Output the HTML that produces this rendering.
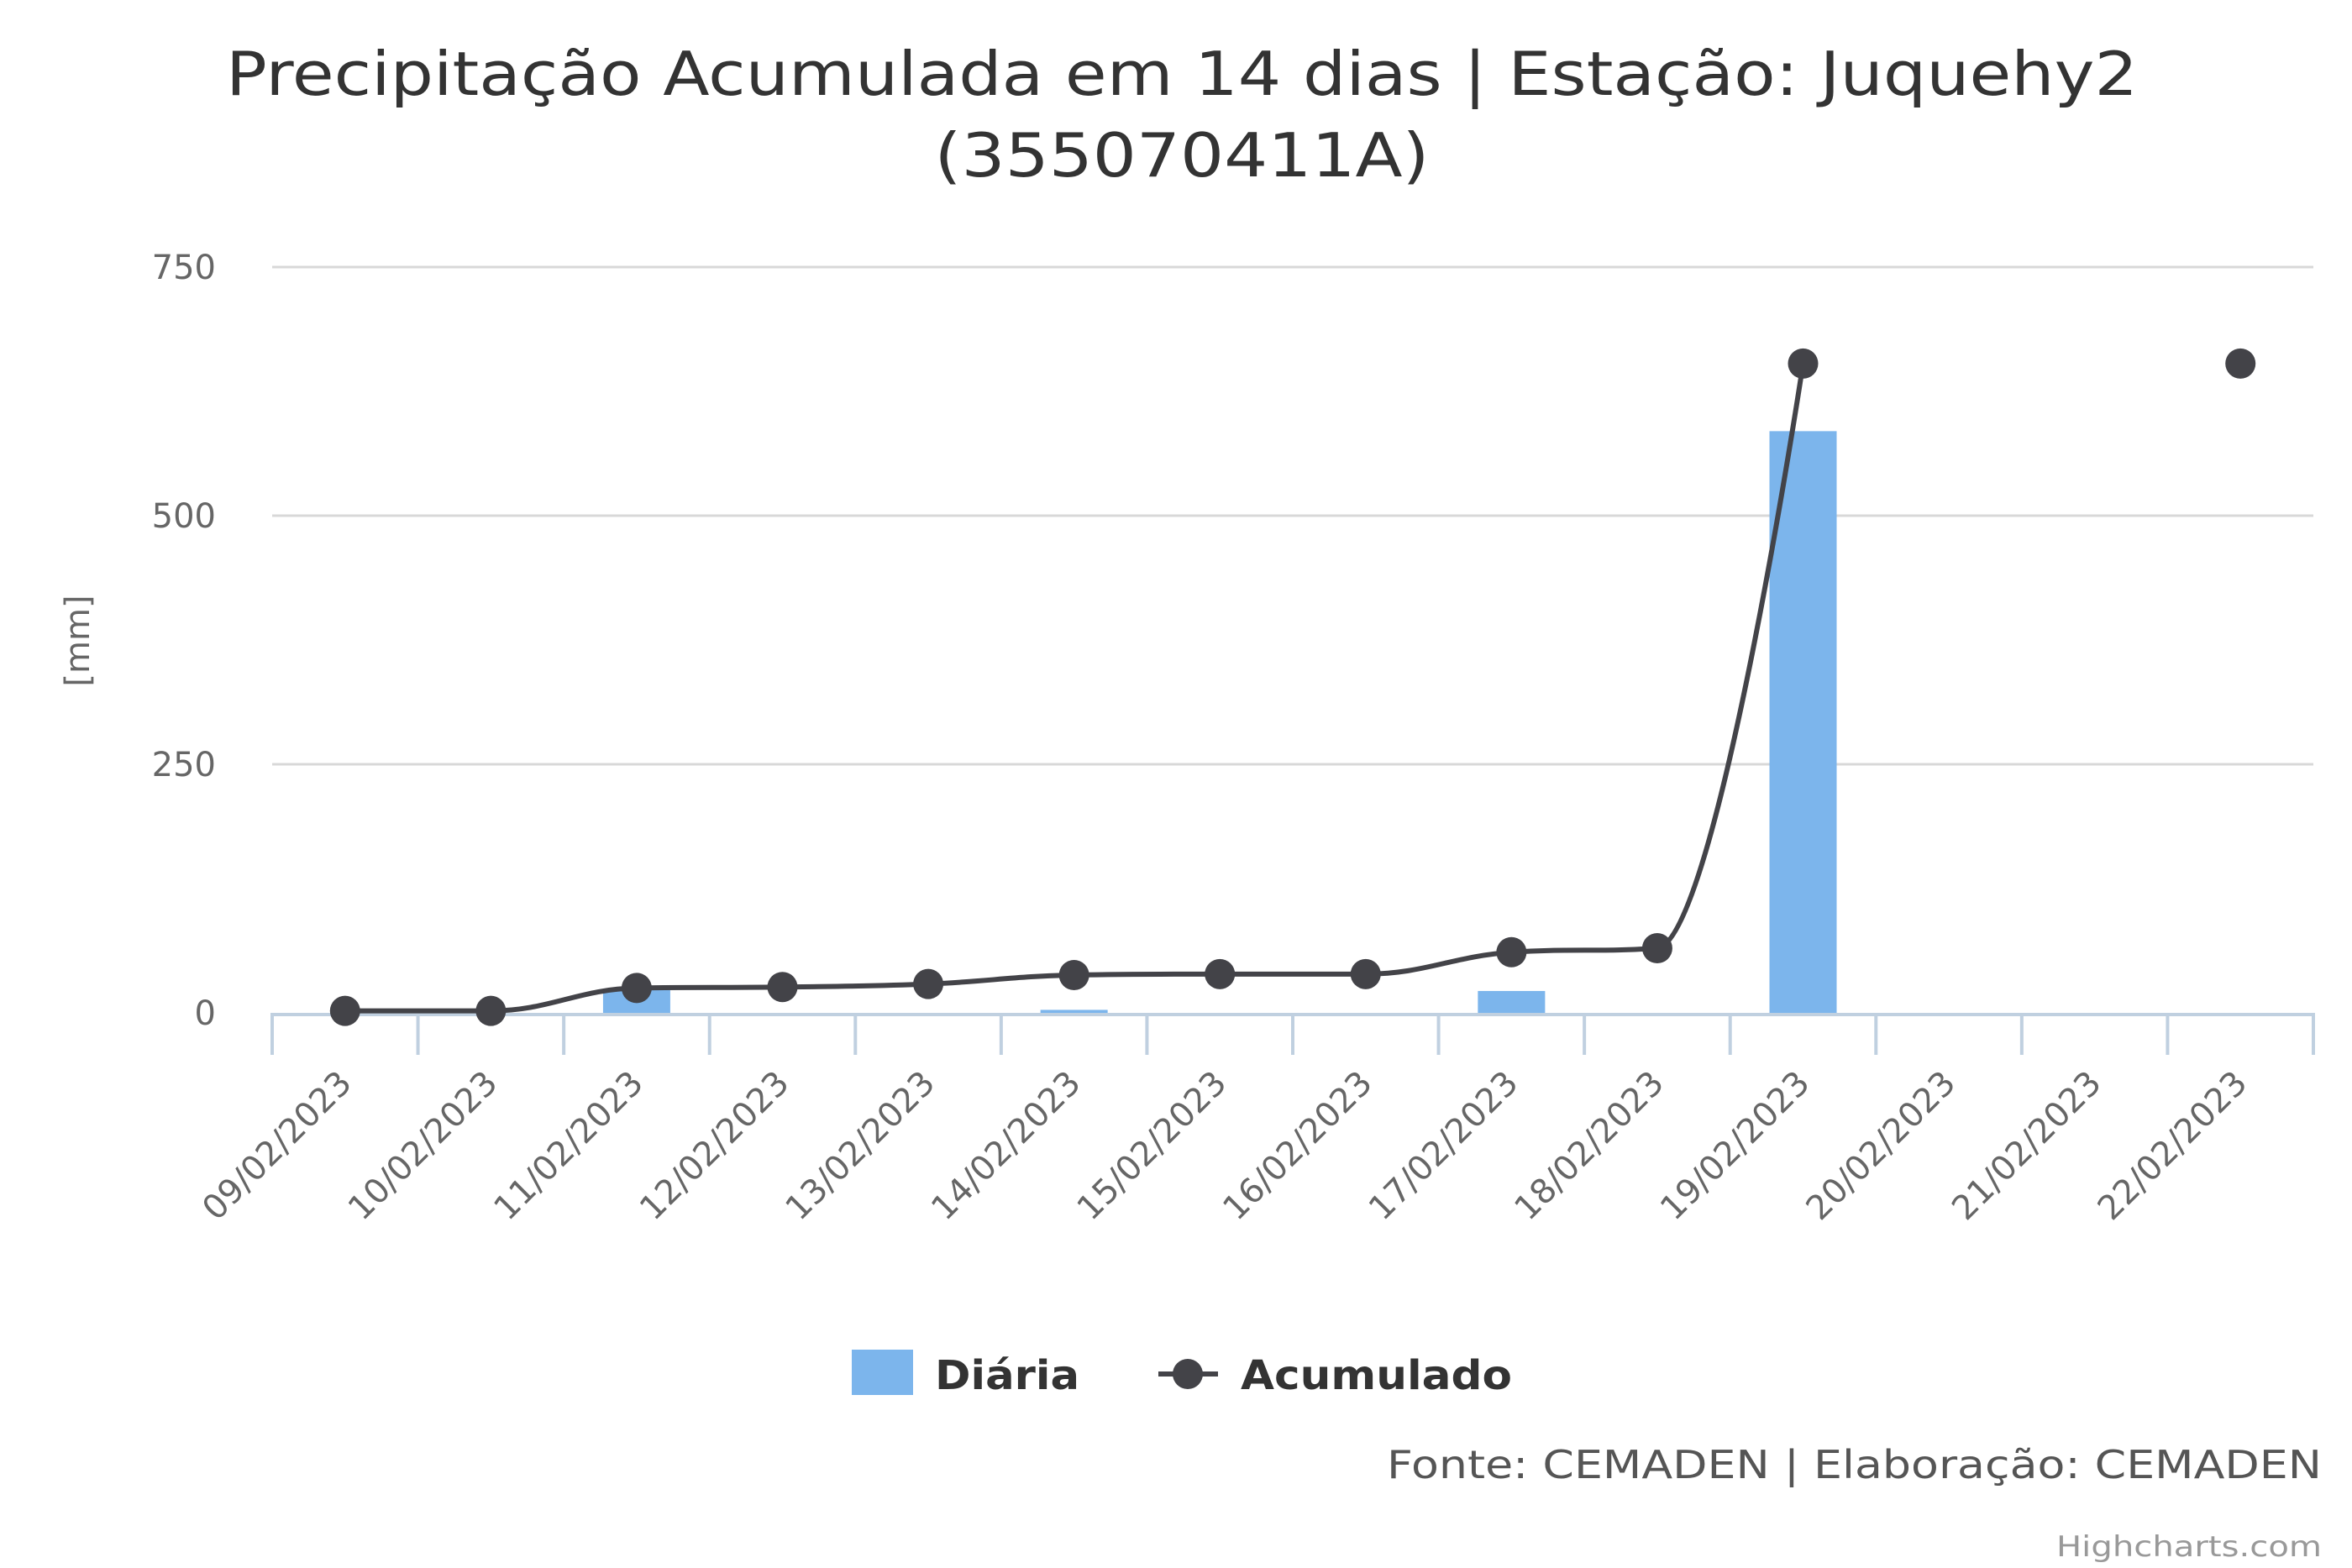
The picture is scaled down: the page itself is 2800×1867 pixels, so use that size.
<!DOCTYPE html>
<html><head><meta charset="utf-8"><style>
html,body{margin:0;padding:0;background:#fff;}
svg{display:block;font-family:"DejaVu Sans","Liberation Sans",sans-serif;}
</style></head><body>
<svg id="chart" width="2800" height="1867" viewBox="0 0 2800 1867" xmlns="http://www.w3.org/2000/svg">
<rect width="2800" height="1867" fill="#fff"/>
<text x="1407" y="113" font-size="72" fill="#333" text-anchor="middle" textLength="2276" lengthAdjust="spacingAndGlyphs">Precipitação Acumulada em 14 dias | Estação: Juquehy2</text>
<text x="1407" y="210" font-size="72" fill="#333" text-anchor="middle" textLength="589" lengthAdjust="spacingAndGlyphs">(355070411A)</text>
<g id="grid"></g>
<g id="bars"></g>
<g id="axis"></g>
<g id="line"></g>
<text transform="translate(106,763) rotate(-90)" font-size="40" fill="#666" text-anchor="middle">[mm]</text>
<g>
<g>
<rect x="1014" y="1607" width="73" height="54" fill="#7cb5ec"/>
<text x="1113" y="1654" font-size="48" font-weight="bold" fill="#333" textLength="172" lengthAdjust="spacingAndGlyphs">Diária</text>
</g>
<g>
<line x1="1379" y1="1636" x2="1450" y2="1636" stroke="#434348" stroke-width="6"/>
<circle cx="1414" cy="1636" r="18" fill="#434348"/>
<text x="1477" y="1654" font-size="48" font-weight="bold" fill="#333" textLength="323" lengthAdjust="spacingAndGlyphs">Acumulado</text>
</g>
</g>
<text x="2764" y="1760" font-size="46" fill="#555" text-anchor="end" textLength="1113" lengthAdjust="spacingAndGlyphs">Fonte: CEMADEN | Elaboração: CEMADEN</text>
<text x="2764" y="1853" font-size="34" fill="#999" text-anchor="end" textLength="316" lengthAdjust="spacingAndGlyphs">Highcharts.com</text>
</svg>
<script>
const categories=["09/02/2023","10/02/2023","11/02/2023","12/02/2023","13/02/2023","14/02/2023","15/02/2023","16/02/2023","17/02/2023","18/02/2023","19/02/2023","20/02/2023","21/02/2023","22/02/2023"];
const diaria=[0,0,23,0,0,3,0,0,22,0,585,0,0,0];
const acumulado=[2,2,25,26,29,38,39,39,61,65,653,null,null,653];
const yTicks=[0,250,500,750];

const NS="http://www.w3.org/2000/svg";
const L=324,R=2754,Y0=1206,Ymax=318,VMAX=750;
const bw=(R-L)/categories.length;
function xs(i){return L+bw*(i+0.5);}
function ys(v){return Y0-(v/VMAX)*(Y0-Ymax);}
function mk(tag,attrs,parent){const e=document.createElementNS(NS,tag);for(const k in attrs)e.setAttribute(k,attrs[k]);parent.appendChild(e);return e;}
const grid=document.getElementById('grid'),bars=document.getElementById('bars'),axis=document.getElementById('axis'),line=document.getElementById('line');

yTicks.forEach(v=>{
  if(v>0){const g=mk('line',{x1:L,x2:R,y1:ys(v),y2:ys(v),stroke:'#d8d8d8','stroke-width':3},grid);
  
  }
  const t=mk('text',{x:257,y:ys(v)+14,'font-size':40,fill:'#666','text-anchor':'end'},grid);
  t.textContent=v;
  
  
});

diaria.forEach((v,i)=>{
  if(!v)return;
  const b=mk('rect',{x:xs(i)-40,y:ys(v),width:80,height:Y0-ys(v),fill:'#7cb5ec'},bars);
  
  
});

const ax=mk('line',{x1:L,x2:R,y1:Y0+2,y2:Y0+2,stroke:'#c0d0e0','stroke-width':4},axis);


for(let i=0;i<=categories.length;i++){
  const x=L+bw*i;
  const tk=mk('line',{x1:x,x2:x,y1:Y0,y2:Y0+50,stroke:'#c0d0e0','stroke-width':4},axis);
  
  
}
categories.forEach((c,i)=>{
  const x=xs(i)+10,y=1292;
  const t=mk('text',{x:x,y:y,'font-size':40,fill:'#666','text-anchor':'end',transform:`rotate(-45 ${x} ${y})`},axis);
  t.textContent=c;
  
  
});

// Highcharts-style spline
const segs=[];let cur=[];
acumulado.forEach((v,i)=>{if(v==null){if(cur.length)segs.push(cur);cur=[];}else cur.push({x:xs(i),y:ys(v),i:i});});
if(cur.length)segs.push(cur);
const sm=1.5,den=2.5;
segs.forEach(seg=>{
  if(seg.length<2)return;
  const lc=[],rc=[];
  seg.forEach((p,k)=>{
    if(k===0||k===seg.length-1){lc[k]={x:p.x,y:p.y};rc[k]={x:p.x,y:p.y};return;}
    const a=seg[k-1],n=seg[k+1];
    let lx=(sm*p.x+a.x)/den,ly=(sm*p.y+a.y)/den,rx=(sm*p.x+n.x)/den,ry=(sm*p.y+n.y)/den;
    if(rx!==lx){const c=((ry-ly)*(rx-p.x))/(rx-lx)+p.y-ry;ly+=c;ry+=c;}
    if(ly>a.y&&ly>p.y){ly=Math.max(a.y,p.y);ry=2*p.y-ly;}else if(ly<a.y&&ly<p.y){ly=Math.min(a.y,p.y);ry=2*p.y-ly;}
    if(ry>n.y&&ry>p.y){ry=Math.max(n.y,p.y);ly=2*p.y-ry;}else if(ry<n.y&&ry<p.y){ry=Math.min(n.y,p.y);ly=2*p.y-ry;}
    lc[k]={x:lx,y:ly};rc[k]={x:rx,y:ry};
  });
  let d=`M${seg[0].x},${seg[0].y}`;
  for(let k=1;k<seg.length;k++)d+=` C${rc[k-1].x},${rc[k-1].y} ${lc[k].x},${lc[k].y} ${seg[k].x},${seg[k].y}`;
  const pth=mk('path',{d:d,fill:'none',stroke:'#434348','stroke-width':6},line);
  
  
});
acumulado.forEach((v,i)=>{
  if(v==null)return;
  const c=mk('circle',{cx:xs(i),cy:ys(v),r:18,fill:'#434348'},line);
  
  
});
</script>
</body></html>
